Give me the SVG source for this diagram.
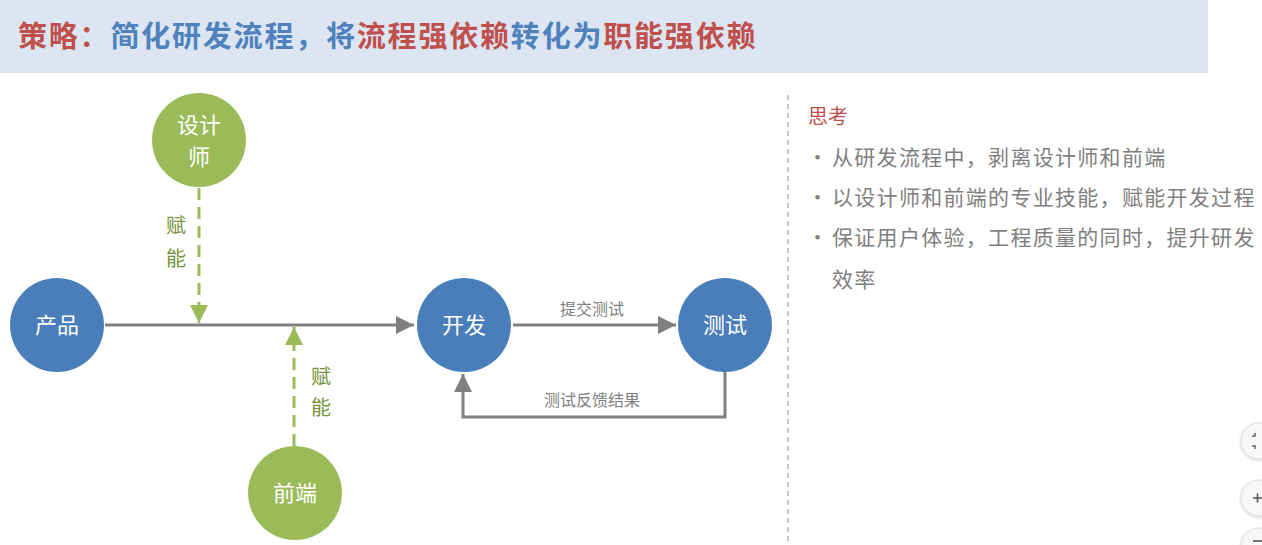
<svg xmlns="http://www.w3.org/2000/svg" width="1262" height="545" viewBox="0 0 1262 545">
  <style>
    text { font-family: "Noto Sans CJK SC", "Noto Sans", sans-serif; }
    .title { font-size: 29px; font-weight: bold; letter-spacing: 1.8px; }
    .red { fill: #c0504d; }
    .blue { fill: #4f81bd; }
    .blueNode { fill: #4a7ebb; }
    .greenNode { fill: #9bbb59; }
    .nodeText { fill: #ffffff; font-size: 22px; text-anchor: middle; }
    .flow { stroke: #808080; stroke-width: 3; fill: none; }
    .enable { stroke: #9bbb59; stroke-width: 3; fill: none; stroke-dasharray: 12 7; }
    .enableLabel { fill: #77933c; font-size: 20px; }
    .edgeLabel { fill: #7f7f7f; font-size: 16px; text-anchor: middle; }
    .body { fill: #7f7f7f; font-size: 21px; letter-spacing: 1.3px; }
    .btn { fill: #f7f7f7; stroke: #dcdcdc; stroke-width: 1; }
  </style>
  <defs>
    <marker id="grayArrow" viewBox="0 0 10 10" refX="10" refY="5" markerWidth="6" markerHeight="6" markerUnits="strokeWidth" orient="auto">
      <path d="M0,0 L10,5 L0,10 Z" fill="#808080"/>
    </marker>
    <marker id="greenArrow" viewBox="0 0 10 10" refX="10" refY="5" markerWidth="6" markerHeight="6" markerUnits="strokeWidth" orient="auto">
      <path d="M0,0 L10,5 L0,10 Z" fill="#9bbb59"/>
    </marker>
    <filter id="shadow" x="-30%" y="-30%" width="160%" height="160%">
      <feDropShadow dx="0" dy="1" stdDeviation="1.5" flood-color="#000" flood-opacity="0.2"/>
    </filter>
  </defs>

  <rect x="0" y="0" width="1262" height="545" fill="#ffffff"/>

  <g id="header">
    <rect x="0" y="0" width="1208" height="73" fill="#dce6f2"/>
    <text class="title" x="18" y="47"><tspan class="red">策略：</tspan><tspan class="blue">简化研发流程，将</tspan><tspan class="red">流程强依赖</tspan><tspan class="blue">转化为</tspan><tspan class="red">职能强依赖</tspan></text>
  </g>

  <g id="connectors">
    <line class="flow" x1="105" y1="325" x2="414" y2="325" marker-end="url(#grayArrow)"/>
    <line class="flow" x1="513" y1="325" x2="676" y2="325" marker-end="url(#grayArrow)"/>
    <polyline class="flow" points="725,372 725,417 463,417 463,374" marker-end="url(#grayArrow)"/>
    <line class="enable" x1="199" y1="188" x2="199" y2="323" marker-end="url(#greenArrow)"/>
    <line class="enable" x1="294" y1="446" x2="294" y2="327" marker-end="url(#greenArrow)"/>
    <text class="edgeLabel" x="592" y="315">提交测试</text>
    <text class="edgeLabel" x="592" y="406">测试反馈结果</text>
    <text class="enableLabel" x="166" y="233">赋</text>
    <text class="enableLabel" x="166" y="266">能</text>
    <text class="enableLabel" x="311" y="384">赋</text>
    <text class="enableLabel" x="311" y="415">能</text>
  </g>

  <g id="node-product">
    <circle class="blueNode" cx="57" cy="325" r="47"/>
    <text class="nodeText" x="57" y="333">产品</text>
  </g>
  <g id="node-designer">
    <circle class="greenNode" cx="199" cy="140" r="47"/>
    <text class="nodeText" x="199" y="133">设计</text>
    <text class="nodeText" x="199" y="165">师</text>
  </g>
  <g id="node-dev">
    <circle class="blueNode" cx="464" cy="325" r="47"/>
    <text class="nodeText" x="464" y="333">开发</text>
  </g>
  <g id="node-test">
    <circle class="blueNode" cx="725" cy="325" r="47"/>
    <text class="nodeText" x="725" y="333">测试</text>
  </g>
  <g id="node-frontend">
    <circle class="greenNode" cx="295" cy="493" r="47"/>
    <text class="nodeText" x="295" y="501">前端</text>
  </g>

  <g id="divider">
    <line x1="788" y1="95" x2="788" y2="545" stroke="#8c8c8c" stroke-width="1" stroke-dasharray="5 4"/>
  </g>

  <g id="thinking">
    <text x="808" y="124" fill="#c0504d" font-size="20">思考</text>
    <text class="body" x="807" y="165">•</text>
    <text class="body" x="832" y="165">从研发流程中，剥离设计师和前端</text>
    <text class="body" x="807" y="205">•</text>
    <text class="body" x="832" y="205">以设计师和前端的专业技能，赋能开发过程</text>
    <text class="body" x="807" y="245">•</text>
    <text class="body" x="832" y="245">保证用户体验，工程质量的同时，提升研发</text>
    <text class="body" x="832" y="287">效率</text>
  </g>

  <g id="controls">
    <g filter="url(#shadow)">
      <circle class="btn" cx="1259" cy="441" r="18"/>
      <circle class="btn" cx="1259" cy="498" r="18"/>
      <circle class="btn" cx="1259" cy="546" r="18"/>
    </g>
    <path d="M1252,436 h3 v-3 M1252,446 h3 v3" stroke="#666" stroke-width="1.5" fill="none"/>
    <path d="M1253,498 h9 M1257.5,493.5 v9" stroke="#555" stroke-width="1.6" fill="none"/>
    <path d="M1253,541 h9" stroke="#555" stroke-width="1.6" fill="none"/>
  </g>
</svg>
